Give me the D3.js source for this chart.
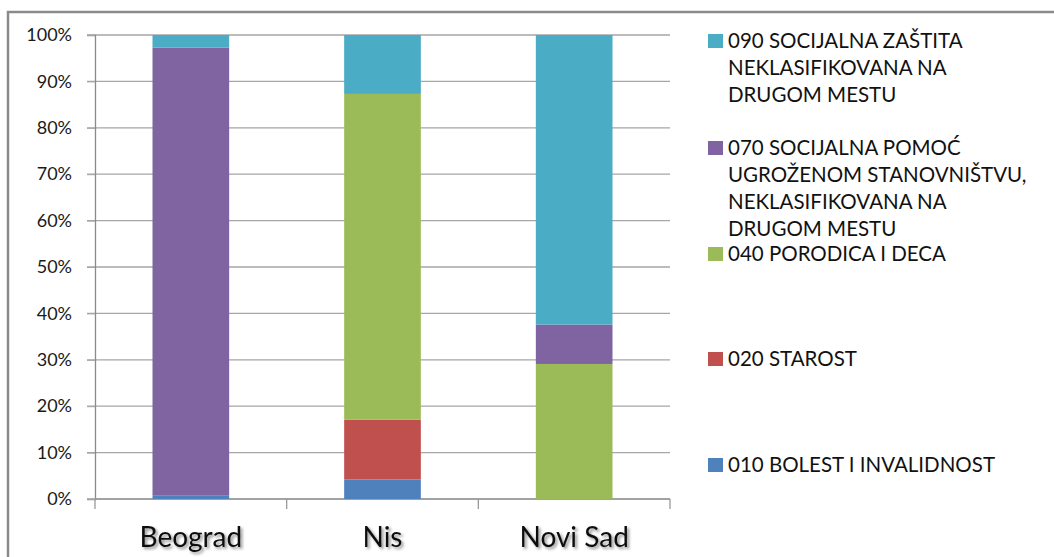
<!DOCTYPE html>
<html>
<head>
<meta charset="utf-8">
<script src="https://cdn.jsdelivr.net/npm/d3@7"></script>
<style>
  body { margin: 0; background: #fff; }
  svg { display: block; font-family: Lato, 'Open Sans', sans-serif; }
</style>
</head>
<body>
<svg id="chart" width="1054" height="557"></svg>
<script>
const cities = ['Beograd', 'Nis', 'Novi Sad'];
// stacking order bottom -> top
const seriesNames = [
  '010 BOLEST I INVALIDNOST',
  '020 STAROST',
  '040 PORODICA I DECA',
  '070 SOCIJALNA POMOĆ UGROŽENOM STANOVNIŠTVU, NEKLASIFIKOVANA NA DRUGOM MESTU',
  '090 SOCIJALNA ZAŠTITA NEKLASIFIKOVANA NA DRUGOM MESTU'
];
const bolest = [0.7, 4.2, 0];
const starost = [0, 12.9, 0];
const porodica = [0, 70.2, 29.1];
const pomoc = [96.6, 0, 8.5];
const zastita = [2.7, 12.7, 62.4];
const colors = ['#4F81BD', '#C0504D', '#9BBB59', '#8064A2', '#4BACC6'];
const yTicks = [0, 10, 20, 30, 40, 50, 60, 70, 80, 90, 100];

// legend lines as shown in the picture (top -> bottom)
const legendLines = [
  ['090 SOCIJALNA ZAŠTITA', 'NEKLASIFIKOVANA NA', 'DRUGOM MESTU'],
  ['070 SOCIJALNA POMOĆ', 'UGROŽENOM STANOVNIŠTVU,', 'NEKLASIFIKOVANA NA', 'DRUGOM MESTU'],
  ['040 PORODICA I DECA'],
  ['020 STAROST'],
  ['010 BOLEST I INVALIDNOST']
];
const legendY = [41, 148, 254, 359, 465];

const rows = cities.map((c, i) => ({
  city: c,
  s0: bolest[i], s1: starost[i], s2: porodica[i], s3: pomoc[i], s4: zastita[i]
}));
const keys = ['s0', 's1', 's2', 's3', 's4'];
const stacked = d3.stack().keys(keys).offset(d3.stackOffsetExpand)(rows);

const svg = d3.select('#chart');

const defs = svg.append('defs');
const f = defs.append('filter').attr('id', 'shadow')
  .attr('x', '-20%').attr('y', '-20%').attr('width', '150%').attr('height', '160%');
f.append('feDropShadow').attr('dx', 2).attr('dy', 2).attr('stdDeviation', 1.5)
  .attr('flood-color', '#000').attr('flood-opacity', 0.45);

// outer frame
svg.append('path')
  .attr('d', 'M8,557 L8,12 L1054,12')
  .attr('fill', 'none').attr('stroke', '#8a8a8a').attr('stroke-width', 2.5);

const x = d3.scaleBand().domain(cities).range([95, 670]).paddingInner(0.6).paddingOuter(0.3);
const y = d3.scaleLinear().domain([0, 1]).range([499, 35]);

// gridlines
svg.append('g').selectAll('line').data(yTicks).join('line')
  .attr('x1', 87).attr('x2', 670)
  .attr('y1', d => y(d / 100)).attr('y2', d => y(d / 100))
  .attr('stroke', '#a6a6a6').attr('stroke-width', 1.3);

// y axis
const yAxis = svg.append('g').attr('transform', 'translate(95,0)')
  .call(d3.axisLeft(y).tickValues(yTicks.map(d => d / 100)).tickFormat(d3.format('.0%')).tickSize(8).tickPadding(15));
yAxis.select('.domain').attr('stroke', '#8a8a8a').attr('stroke-width', 1.3);
yAxis.selectAll('.tick line').attr('stroke', '#a6a6a6');
yAxis.selectAll('text').attr('font-size', 18).attr('fill', '#1a1a1a')
  .attr('font-family', "Lato, 'Open Sans', sans-serif");

// x axis baseline with ticks between categories
const xEdges = [95, 95 + 575 / 3, 95 + 2 * 575 / 3, 670];
svg.append('line').attr('x1', 95).attr('x2', 670).attr('y1', 499).attr('y2', 499)
  .attr('stroke', '#9a9a9a').attr('stroke-width', 1.3);
svg.append('g').selectAll('line').data(xEdges).join('line')
  .attr('x1', d => d).attr('x2', d => d).attr('y1', 499).attr('y2', 509)
  .attr('stroke', '#9a9a9a').attr('stroke-width', 1.3);

// bars
svg.append('g').selectAll('g').data(stacked).join('g')
  .attr('fill', (d, i) => colors[i])
  .selectAll('rect').data(d => d).join('rect')
  .attr('x', d => x(d.data.city))
  .attr('width', x.bandwidth())
  .attr('y', d => y(d[1]))
  .attr('height', d => Math.max(0, y(d[0]) - y(d[1])));

// category labels
svg.append('g').selectAll('text').data(cities).join('text')
  .attr('x', d => x(d) + x.bandwidth() / 2)
  .attr('y', 547)
  .attr('text-anchor', 'middle')
  .attr('font-size', 28)
  .attr('fill', '#111')
  .attr('filter', 'url(#shadow)')
  .text(d => d);

// legend (top entry is the top series)
const legendColors = colors.slice().reverse();
const lg = svg.append('g');
legendLines.forEach((lines, i) => {
  const cy = legendY[i];
  lg.append('rect').attr('x', 708).attr('y', cy - 7).attr('width', 15).attr('height', 14)
    .attr('fill', legendColors[i]);
  lines.forEach((t, j) => {
    lg.append('text')
      .attr('x', 728).attr('y', cy + j * 27)
      .attr('dy', '0.36em')
      .attr('font-size', 20.5)
      .attr('fill', '#111')
      .text(t);
  });
});
</script>
</body>
</html>
